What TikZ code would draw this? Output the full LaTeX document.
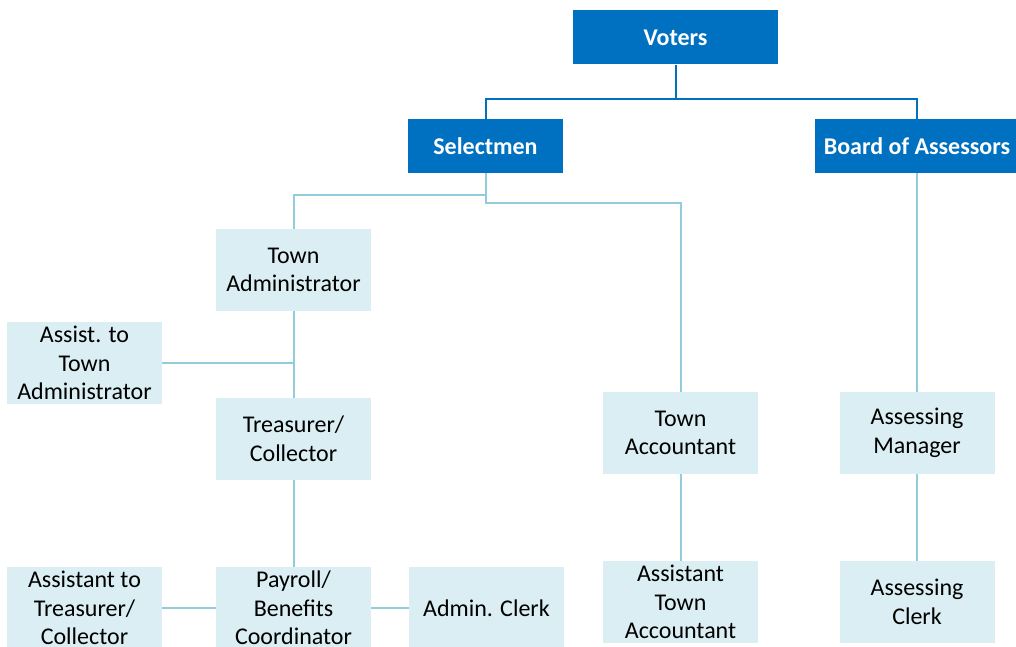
\documentclass[tikz,border=0pt]{standalone}
\usepackage{fontspec}
\setmainfont{Carlito}
\usetikzlibrary{calc}
\definecolor{headBlue}{HTML}{0070C0}
\definecolor{boxFill}{HTML}{DAEEF3}
\definecolor{lineBlue}{HTML}{92CDDC}

\begin{document}
\begin{tikzpicture}[x=0.5pt, y=-0.5pt,
    head/.style={fill=headBlue, text=white, font=\bfseries\fontsize{12}{14.25}\selectfont, minimum height=27pt, inner sep=0pt},
    staff/.style={fill=boxFill, text=black, font=\fontsize{12}{14.25}\selectfont, align=center, minimum width=77.5pt, minimum height=41pt, inner sep=0pt},
    toplink/.style={draw=headBlue, line width=1pt},
    link/.style={draw=lineBlue, line width=1pt}]
    \useasboundingbox (0,0) rectangle (1016,647);

    % top level
    \node[head, minimum width=102.5pt] (voters) at (675.5,37.5) {Voters};
    \node[head, minimum width=77.5pt] (selectmen) at (485.5,146) {Selectmen};
    \node[head, minimum width=102.5pt] (assessors) at (917,146) {Board of Assessors};

    % Selectmen side
    \node[staff] (townadmin) at (293.5,270) {Town\\Administrator};
    \node[staff] (assistadmin) at (84.5,363) {Assist. to\\Town\\Administrator};
    \node[staff] (treasurer) at (293.5,439) {Treasurer/\\Collector};
    \node[staff] (assisttreas) at (84.5,608) {Assistant to\\Treasurer/\\Collector};
    \node[staff] (payroll) at (293.5,608) {Payroll/\\Benefits\\Coordinator};
    \node[staff] (adminclerk) at (486.5,608) {Admin. Clerk};
    \node[staff] (townacct) at (680.5,433) {Town\\Accountant};
    \node[staff] (assistacct) at (680.5,602) {Assistant\\Town\\Accountant};

    % Assessors side
    \node[staff] (assessmgr) at (917,433) {Assessing\\Manager};
    \node[staff] (assessclerk) at (917,602) {Assessing\\Clerk};

    % connectors
    \draw[toplink] (voters.south) -- ++(0,34) -| (selectmen.north);
    \draw[toplink] (voters.south) -- ++(0,34) -| (assessors.north);
    \draw[link] (selectmen.south) -- ++(0,22) -| (townadmin.north);
    \draw[link] (selectmen.south) -- ++(0,30) -| (townacct.north);
    \draw[link] (assessors.south) -- (assessmgr.north);
    \draw[link] (townadmin.south) -- (treasurer.north);
    \draw[link] (assistadmin.east) -- (assistadmin.east -| townadmin.south);
    \draw[link] (treasurer.south) -- (payroll.north);
    \draw[link] (assisttreas.east) -- (payroll.west);
    \draw[link] (payroll.east) -- (adminclerk.west);
    \draw[link] (townacct.south) -- (assistacct.north);
    \draw[link] (assessmgr.south) -- (assessclerk.north);
\end{tikzpicture}
\end{document}
